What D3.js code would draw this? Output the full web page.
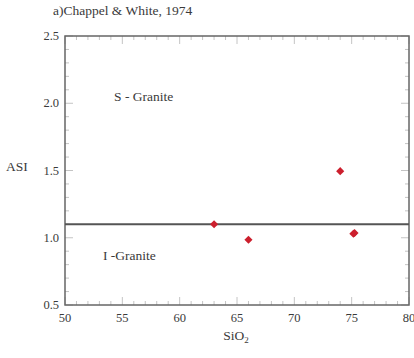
<!DOCTYPE html>
<html>
<head>
<meta charset="utf-8">
<script src="https://cdn.jsdelivr.net/npm/d3@7"></script>
<style>
  body { margin: 0; background: #fff; }
  text { font-family: "Liberation Serif", "DejaVu Serif", serif; fill: #3a3a3a; }
</style>
</head>
<body>
<div id="holder"></div>
<script>
// data
const sio2 = [63.0, 66.0, 74.0, 75.15, 75.25];
const asi = [1.10, 0.985, 1.495, 1.03, 1.035];
const xTicks = [50, 55, 60, 65, 70, 75, 80];
const yTicks = [0.5, 1.0, 1.5, 2.0, 2.5];
const divider = 1.1;

const width = 414;
const height = 358;
const plotLeft = 65, plotRight = 409, plotTop = 36, plotBottom = 305;

const xScale = d3.scaleLinear().domain([50, 80]).range([plotLeft, plotRight]);
const yScale = d3.scaleLinear().domain([0.5, 2.5]).range([plotBottom, plotTop]);

const svg = d3.select("#holder")
    .append("svg")
    .attr("width", width)
    .attr("height", height);

// minor + major ticks, inward on all four sides
const xMinor = d3.range(50, 80.01, 1);
const yMinor = d3.range(5, 25.01, 1).map(v => v / 10);
const tickColor = "#c4c4c4";

function isMajorX(v) { return Math.round(v) % 5 === 0; }
function isMajorY(v) { return Math.round(v * 10) % 5 === 0; }

const ticks = svg.append("g").attr("stroke", tickColor).attr("stroke-width", 1);
xMinor.forEach(v => {
    const len = isMajorX(v) ? 8 : 4;
    ticks.append("line").attr("x1", xScale(v)).attr("x2", xScale(v))
        .attr("y1", plotBottom).attr("y2", plotBottom - len);
    ticks.append("line").attr("x1", xScale(v)).attr("x2", xScale(v))
        .attr("y1", plotTop).attr("y2", plotTop + len);
});
yMinor.forEach(v => {
    const len = isMajorY(v) ? 8 : 4;
    ticks.append("line").attr("y1", yScale(v)).attr("y2", yScale(v))
        .attr("x1", plotLeft).attr("x2", plotLeft + len);
    ticks.append("line").attr("y1", yScale(v)).attr("y2", yScale(v))
        .attr("x1", plotRight).attr("x2", plotRight - len);
});

// frame
svg.append("rect")
    .attr("x", plotLeft).attr("y", plotTop)
    .attr("width", plotRight - plotLeft).attr("height", plotBottom - plotTop)
    .attr("fill", "none")
    .attr("stroke", "#666")
    .attr("stroke-width", 1.5);

// tick labels
svg.selectAll(".xlab")
    .data(xTicks)
    .enter()
    .append("text")
    .attr("class", "xlab")
    .attr("x", d => xScale(d))
    .attr("y", plotBottom + 17)
    .attr("text-anchor", "middle")
    .attr("font-size", 12.5)
    .text(d => d);

svg.selectAll(".ylab")
    .data(yTicks)
    .enter()
    .append("text")
    .attr("class", "ylab")
    .attr("x", plotLeft - 6)
    .attr("y", d => yScale(d) + 4)
    .attr("text-anchor", "end")
    .attr("font-size", 12.5)
    .text(d => d.toFixed(1));

// divider line
svg.append("line")
    .attr("x1", plotLeft).attr("x2", plotRight)
    .attr("y1", yScale(divider)).attr("y2", yScale(divider))
    .attr("stroke", "#555")
    .attr("stroke-width", 2);

// points (diamonds)
svg.selectAll(".dot")
    .data(sio2.map((d, i) => [d, asi[i]]))
    .enter()
    .append("path")
    .attr("class", "dot")
    .attr("d", d3.symbol().type(d3.symbolDiamond2).size(42))
    .attr("transform", d => `translate(${xScale(d[0])},${yScale(d[1])})`)
    .attr("fill", "#cc1f2d");

// labels
svg.append("text").attr("x", 53).attr("y", 15).attr("font-size", 13.5).text("a)Chappel & White, 1974");
svg.append("text").attr("x", 114).attr("y", 101).attr("font-size", 13.5).text("S - Granite");
svg.append("text").attr("x", 103).attr("y", 260).attr("font-size", 13.5).text("I -Granite");
svg.append("text").attr("x", 6).attr("y", 171).attr("font-size", 13.5).text("ASI");

const xl = svg.append("text").attr("x", 236).attr("y", 340).attr("text-anchor", "middle").attr("font-size", 13.5);
xl.append("tspan").text("SiO");
xl.append("tspan").attr("font-size", 9).attr("dy", 3).text("2");
</script>
</body>
</html>
